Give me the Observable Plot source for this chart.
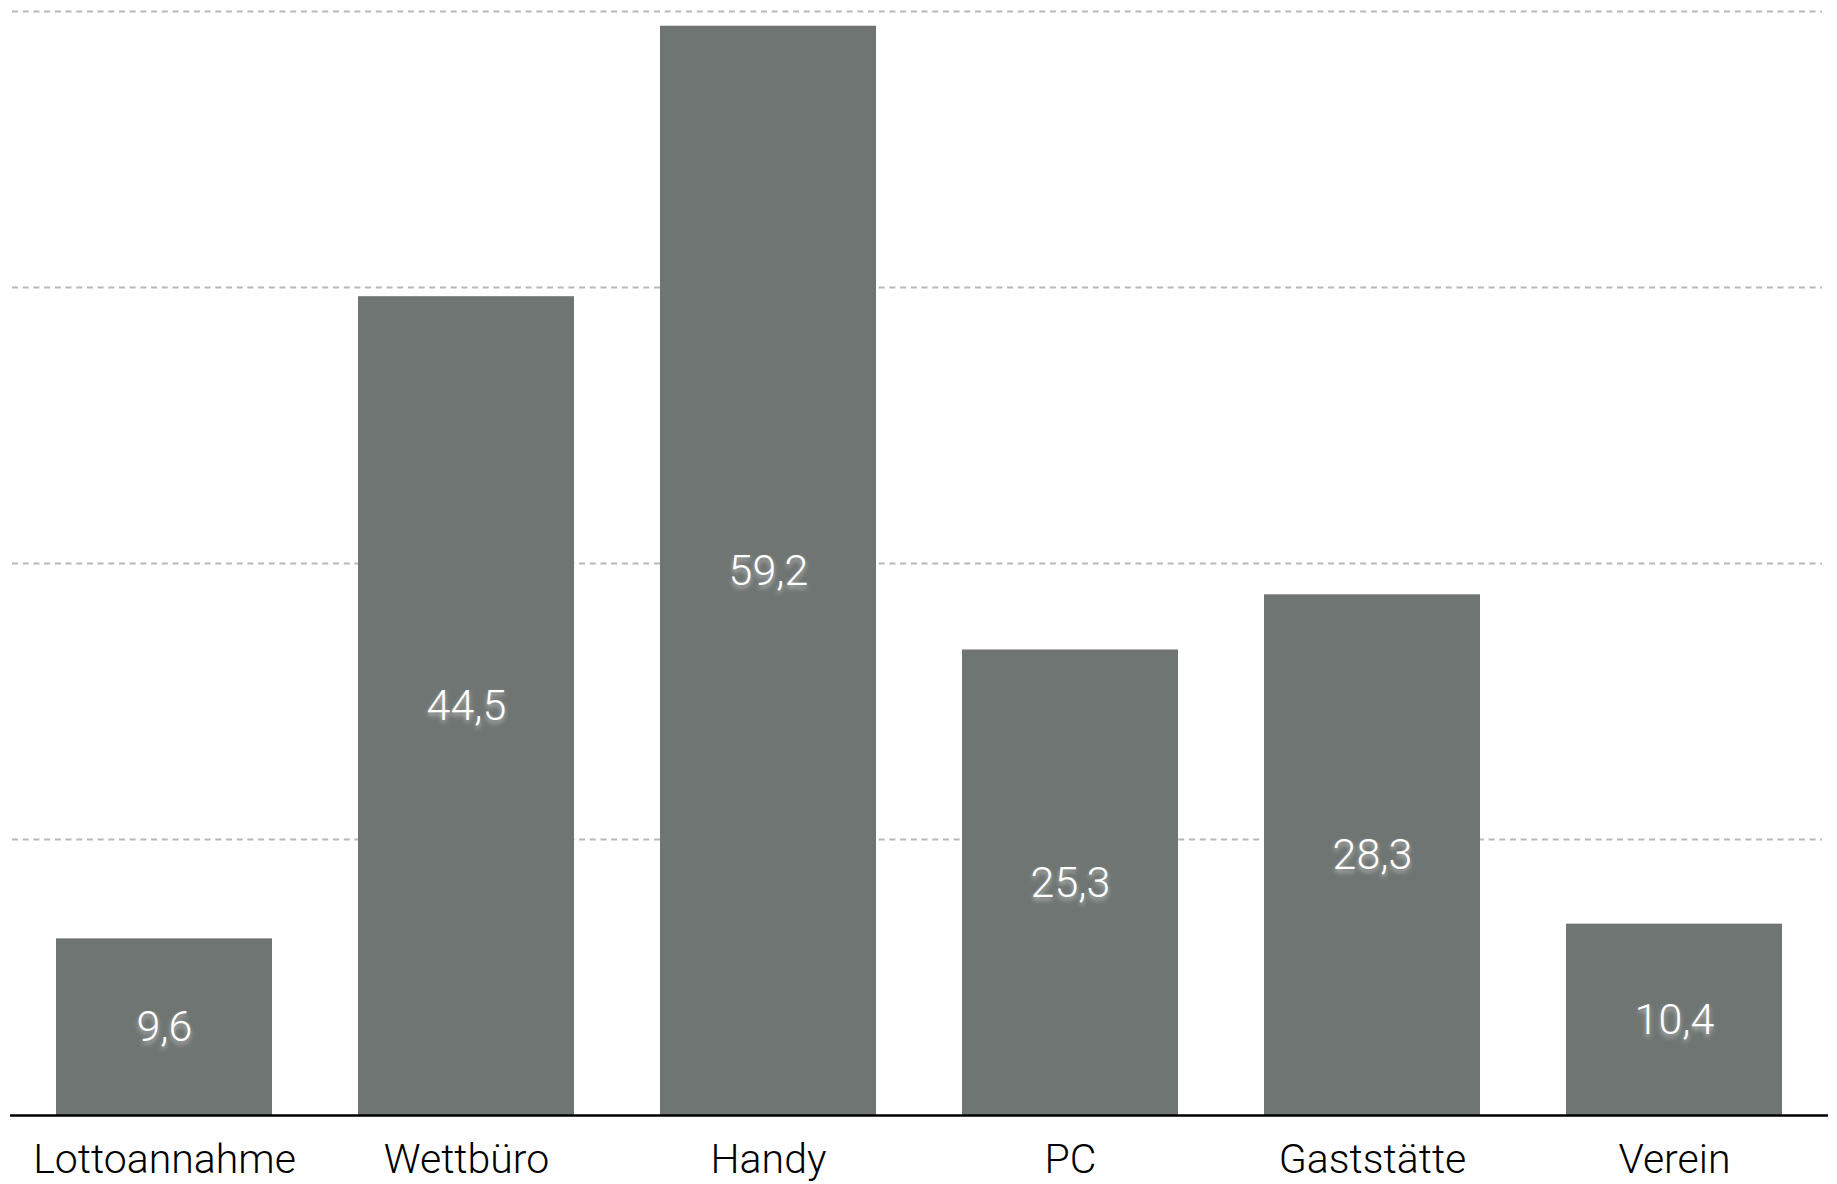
<!DOCTYPE html>
<html>
<head>
<meta charset="utf-8">
<script src="https://cdn.jsdelivr.net/npm/d3@7"></script>
<script src="https://cdn.jsdelivr.net/npm/@observablehq/plot@0.6"></script>
<style>
  html, body { margin: 0; padding: 0; background: #fff; }
  #chart svg { display: block; }
  g[aria-label="text"] text { text-shadow: 0 3px 5px rgba(255,255,255,0.55); }
</style>
</head>
<body>
<div id="chart"></div>
<script>
const categories = ["Lottoannahme", "Wettbüro", "Handy", "PC", "Gaststätte", "Verein"];
const values = [9.6, 44.5, 59.2, 25.3, 28.3, 10.4];
const gridTicks = [15, 30, 45, 60];

const data = categories.map((c, i) => ({category: c, value: values[i]}));
const fmt = v => v.toFixed(1).replace(".", ",");

const chart = Plot.plot({
  width: 1837,
  height: 1184,
  marginLeft: 12,
  marginRight: 11,
  marginTop: 11,
  marginBottom: 69,
  style: {fontFamily: "Roboto, 'Liberation Sans', sans-serif", fontWeight: 300, background: "#fff"},
  x: {domain: categories, paddingInner: 0.286, paddingOuter: 0.143, label: null},
  y: {domain: [0, 60], axis: null},
  marks: [
    Plot.ruleY(gridTicks, {stroke: "#b8b8b8", strokeWidth: 2, strokeDasharray: "6,4.7", insetRight: 4}),
    Plot.barY(data, {x: "category", y: "value", fill: "#6f7572"}),
    Plot.ruleY([0], {stroke: "#000", strokeWidth: 2.5, insetLeft: -2, insetRight: -2}),
    Plot.text(data, {x: "category", y: d => d.value / 2, text: d => fmt(d.value), fill: "#fff", fontSize: 43, fontWeight: 300}),
    Plot.axisX({tickSize: 0, tickPadding: 28, fontSize: 41, fill: "#000", label: null})
  ]
});
document.getElementById("chart").append(chart);
</script>
</body>
</html>
